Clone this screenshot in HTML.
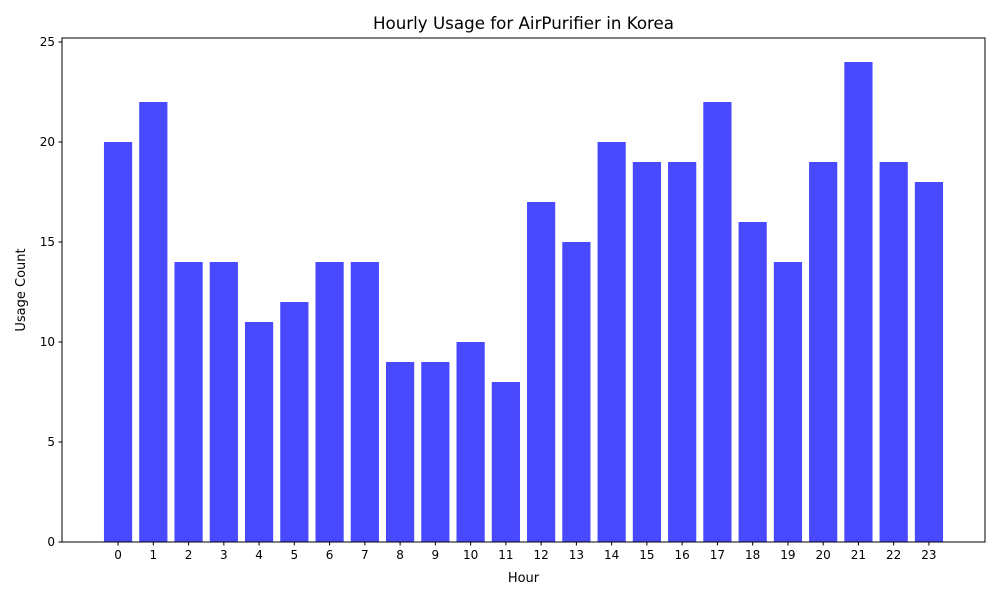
<!DOCTYPE html>
<html><head><meta charset="utf-8"><style>
body{margin:0;background:#fff;font-family:"Liberation Sans","DejaVu Sans",sans-serif}
svg text{font-family:"DejaVu Sans","Liberation Sans",sans-serif}
</style></head><body>
<svg id="c" width="1000" height="600"></svg>
<script>
const hours=[0,1,2,3,4,5,6,7,8,9,10,11,12,13,14,15,16,17,18,19,20,21,22,23];
const counts=[20,22,14,14,11,12,14,14,9,9,10,8,17,15,20,19,19,22,16,14,19,24,19,18];
const yTicks=[0,5,10,15,20,25];
const L=62,R=985,T=38,B=542;
const ymax=Math.max(...counts)*1.05;
const xmin=-0.4-0.05*(hours.length-1+0.8),xmax=hours.length-1+0.4+0.05*(hours.length-1+0.8);
const sx=v=>L+(v-xmin)/(xmax-xmin)*(R-L);
const sy=v=>B-v/ymax*(B-T);
const s=document.getElementById('c');const NS='http://www.w3.org/2000/svg';
function mk(t,a,txt){const e=document.createElementNS(NS,t);for(const k in a)e.setAttribute(k,a[k]);if(txt!==undefined)e.textContent=txt;s.appendChild(e);return e;}
hours.forEach((h,i)=>{const w=0.8*(sx(1)-sx(0));
const r=mk('rect',{x:sx(h)-w/2,y:sy(counts[i]),width:w,height:B-sy(counts[i]),fill:'#4949ff'});


const tk=mk('line',{x1:sx(h),x2:sx(h),y1:B,y2:B+3.5,stroke:'#000'});


const tl=mk('text',{x:sx(h),y:B+17,'font-size':12,'text-anchor':'middle'},h);


});
yTicks.forEach(v=>{
const tk=mk('line',{x1:L-3.5,x2:L,y1:sy(v),y2:sy(v),stroke:'#000'});


const tl=mk('text',{x:L-7,y:sy(v)+4,'font-size':12,'text-anchor':'end'},v);


});
const fr=mk('rect',{x:L,y:T,width:R-L,height:B-T,fill:'none',stroke:'#000','stroke-width':1});


const t=mk('text',{x:(L+R)/2,y:29,'font-size':16.7,'text-anchor':'middle'},'Hourly Usage for AirPurifier in Korea');


const xt=mk('text',{x:(L+R)/2,y:582,'font-size':13,'text-anchor':'middle'},'Hour');


const yt=mk('text',{x:25,y:(T+B)/2,'font-size':13,'text-anchor':'middle',transform:'rotate(-90 25 '+(T+B)/2+')'},'Usage Count');


</script>
</body></html>
